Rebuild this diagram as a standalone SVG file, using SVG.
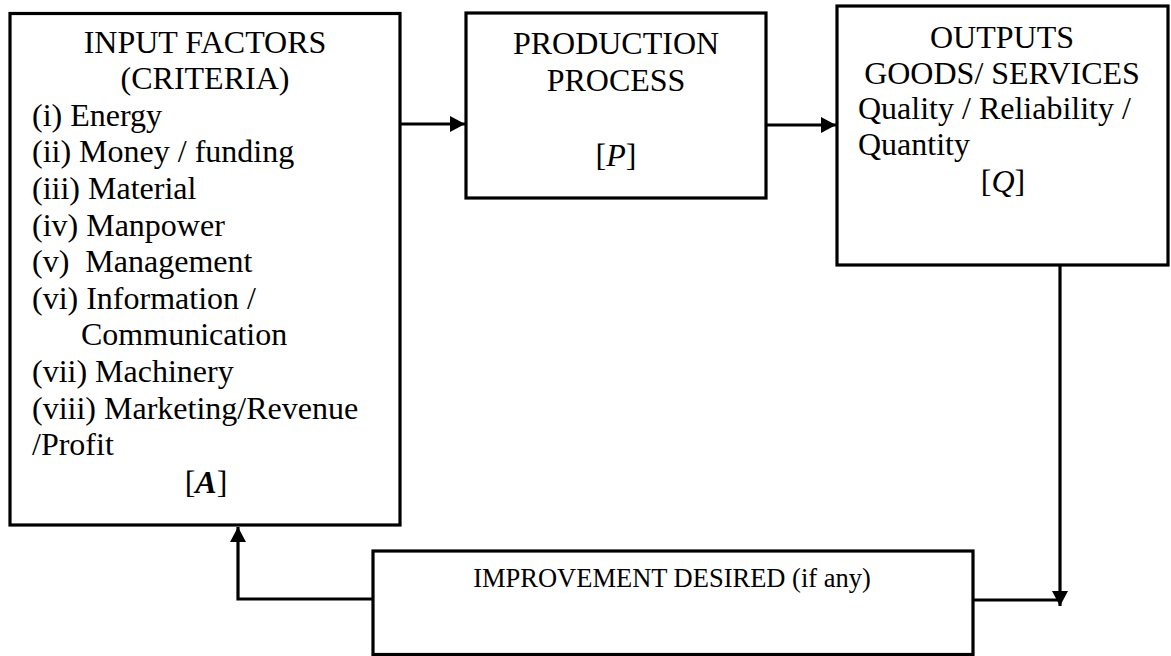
<svg xmlns="http://www.w3.org/2000/svg" width="1171" height="656" viewBox="0 0 1171 656">
  <style>
    .box { fill: #ffffff; stroke: #000000; stroke-width: 3.2; }
    .t { font-family: "Liberation Serif", "Times New Roman", serif; font-size: 32px; fill: #000000; white-space: pre; }
    .c { text-anchor: middle; }
    .small { font-size: 26.5px; }
    .conn { fill: none; stroke: #000000; stroke-width: 3.2; }
    .math { font-style: italic; }
  </style>
  <defs>
    <marker id="arrow" viewBox="0 0 15 16" refX="15" refY="8" markerWidth="15" markerHeight="16" markerUnits="userSpaceOnUse" orient="auto">
      <path d="M0,0 L15,8 L0,16 Z" fill="#000000"/>
    </marker>
  </defs>
  <rect width="1171" height="656" fill="#ffffff"/>

  <g id="connectors">
    <line class="conn" x1="400" y1="124" x2="465" y2="124" marker-end="url(#arrow)"/>
    <line class="conn" x1="766" y1="125" x2="836" y2="125" marker-end="url(#arrow)"/>
    <line class="conn" x1="1060" y1="265" x2="1060" y2="606" marker-end="url(#arrow)"/>
    <polyline class="conn" points="973,600 1060,600"/>
    <polyline class="conn" points="373,599 238,599 238,527" marker-end="url(#arrow)"/>
  </g>

  <g id="input-factors">
    <rect class="box" x="10" y="13.5" width="390" height="511.5"/>
    <text class="t c" x="205" y="53">INPUT FACTORS</text>
    <text class="t c" x="205" y="89">(CRITERIA)</text>
    <text class="t" x="32" y="126">(i) Energy</text>
    <text class="t" x="32" y="162">(ii) Money / funding</text>
    <text class="t" x="32" y="199">(iii) Material</text>
    <text class="t" x="32" y="236">(iv) Manpower</text>
    <text class="t" x="32" y="272">(v)  Management</text>
    <text class="t" x="32" y="309">(vi) Information /</text>
    <text class="t" x="81" y="345">Communication</text>
    <text class="t" x="32" y="382">(vii) Machinery</text>
    <text class="t" x="32" y="419">(viii) Marketing/Revenue</text>
    <text class="t" x="32" y="455">/Profit</text>
    <text class="t c" x="206" y="493">[<tspan class="math" font-weight="bold">A</tspan>]</text>
  </g>

  <g id="production-process">
    <rect class="box" x="466" y="13" width="300" height="185"/>
    <text class="t c" x="616" y="54">PRODUCTION</text>
    <text class="t c" x="616" y="91">PROCESS</text>
    <text class="t c" x="616" y="166">[<tspan class="math">P</tspan>]</text>
  </g>

  <g id="outputs">
    <rect class="box" x="837" y="6" width="331" height="259"/>
    <text class="t c" x="1002" y="48">OUTPUTS</text>
    <text class="t c" x="1002" y="84">GOODS/ SERVICES</text>
    <text class="t" x="858" y="119">Quality / Reliability /</text>
    <text class="t" x="858" y="155">Quantity</text>
    <text class="t c" x="1003" y="192">[<tspan class="math">Q</tspan>]</text>
  </g>

  <g id="improvement-desired">
    <rect class="box" x="373" y="551" width="600" height="103.5"/>
    <text class="t small c" x="672" y="587">IMPROVEMENT DESIRED (if any)</text>
  </g>
</svg>
